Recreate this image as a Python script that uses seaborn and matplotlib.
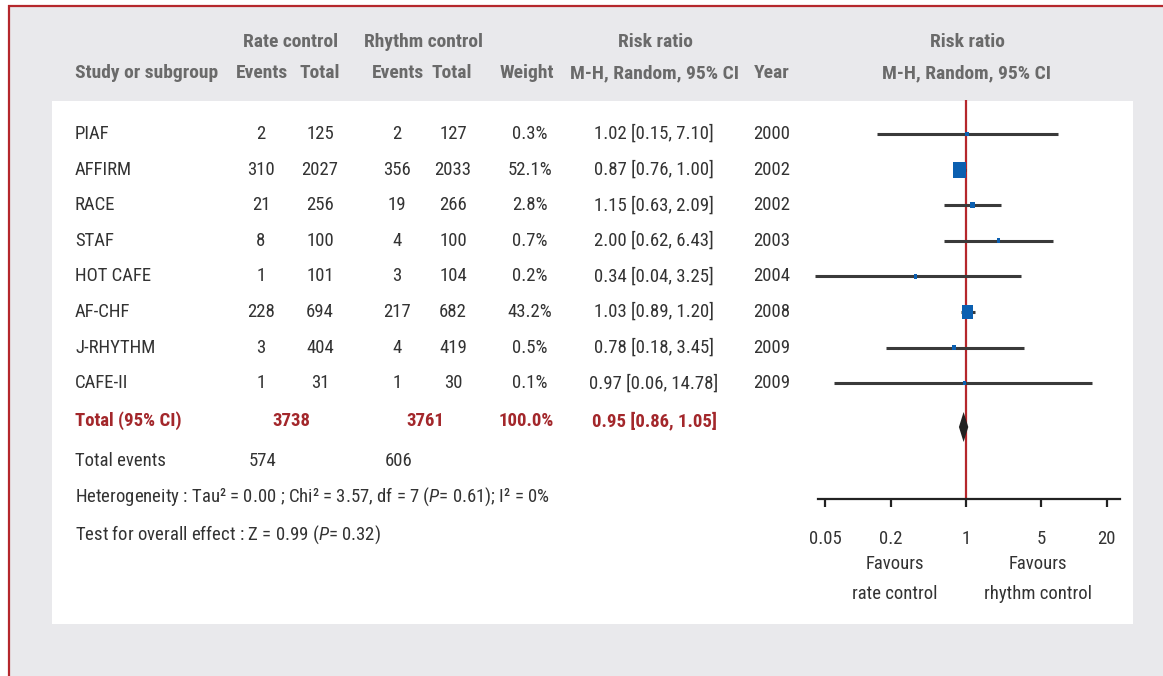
import numpy as np
import matplotlib
matplotlib.use("Agg")
import matplotlib.pyplot as plt
from matplotlib import font_manager
from matplotlib.patches import Rectangle, Polygon
from matplotlib.path import Path
import pandas as pd
import seaborn as sns

# ---- data ----
studies = ["PIAF", "AFFIRM", "RACE", "STAF", "HOT CAFE", "AF-CHF", "J-RHYTHM", "CAFE-II"]
rate_events = [2, 310, 21, 8, 1, 228, 3, 1]
rate_total = [125, 2027, 256, 100, 101, 694, 404, 31]
rhythm_events = [2, 356, 19, 4, 3, 217, 4, 1]
rhythm_total = [127, 2033, 266, 100, 104, 682, 419, 30]
weights = [0.3, 52.1, 2.8, 0.7, 0.2, 43.2, 0.5, 0.1]
rr = [1.02, 0.87, 1.15, 2.00, 0.34, 1.03, 0.78, 0.97]
rr_lo = [0.15, 0.76, 0.63, 0.62, 0.04, 0.89, 0.18, 0.06]
rr_hi = [7.10, 1.00, 2.09, 6.43, 3.25, 1.20, 3.45, 14.78]
years = [2000, 2002, 2002, 2003, 2004, 2008, 2009, 2009]

total_rate_n = 3738
total_rhythm_n = 3761
total_weight = 100.0
pooled_rr, pooled_lo, pooled_hi = 0.95, 0.86, 1.05
total_rate_events = 574
total_rhythm_events = 606
heterogeneity = "Heterogeneity : Tau² = 0.00 ; Chi² = 3.57, df = 7 ($\\mathit{P}$= 0.61); I² = 0%"
overall_test = "Test for overall effect : Z = 0.99 ($\\mathit{P}$= 0.32)"
axis_ticks = [0.05, 0.2, 1, 5, 20]
axis_ticklabels = ["0.05", "0.2", "1", "5", "20"]

# ---- style ----
sns.set_style("white")
available = {f.name for f in font_manager.fontManager.ttflist}
narrow = [n for n in ["Roboto Condensed", "Liberation Sans Narrow", "Roboto"] if n in available]
MAIN = narrow[0] if narrow else "DejaVu Sans"
FONT = [MAIN, "DejaVu Sans"]
plt.rcParams["font.family"] = FONT
plt.rcParams["mathtext.fontset"] = "custom"
plt.rcParams["mathtext.rm"] = MAIN
plt.rcParams["mathtext.it"] = MAIN + ":italic"

W, H = 1163, 676
BG = "#e9e9ec"
RED = "#b5272c"
HEAD = "#6a6a6a"
BODY = "#333333"
TOTRED = "#a3272b"
BLUE = "#0b5fb0"
FS = 13.5
HFS = 14

fig = plt.figure(figsize=(W / 100, H / 100), dpi=100)
fig.patch.set_facecolor("white")

# pixel-space canvas for the panels and the table text
bg = fig.add_axes([0, 0, 1, 1])
bg.set_xlim(0, W)
bg.set_ylim(H, 0)
bg.axis("off")
bg.add_patch(Rectangle((8, 5), W - 8, H - 5, facecolor=BG, edgecolor="none", zorder=0))
bg.add_patch(Rectangle((52, 101), 1133 - 52, 624 - 101, facecolor="white", edgecolor="none", zorder=1))
bg.plot([8, W], [5.5, 5.5], color=RED, lw=1.6, zorder=2, solid_capstyle="butt")
bg.plot([8.5, 8.5], [5, H], color=RED, lw=1.6, zorder=2, solid_capstyle="butt")


def txt(x, y, s, ha="center", color=BODY, weight="normal", size=FS):
    bg.text(x, y, s, ha=ha, va="center", color=color, fontsize=size,
            fontweight=weight, zorder=5)


# header
HW = "bold"
hy1, hy2 = 42, 73
txt(291, hy1, "Rate control", color=HEAD, weight=HW, size=HFS)
txt(424, hy1, "Rhythm control", color=HEAD, weight=HW, size=HFS)
txt(655, hy1, "Risk ratio", color=HEAD, weight=HW, size=HFS)
txt(967, hy1, "Risk ratio", color=HEAD, weight=HW, size=HFS)
txt(75, hy2, "Study or subgroup", ha="left", color=HEAD, weight=HW, size=HFS)
for x, s in [(262, "Events"), (320, "Total"), (398, "Events"), (452, "Total"),
             (527, "Weight"), (655, "M-H, Random, 95% CI"), (772, "Year"),
             (967, "M-H, Random, 95% CI")]:
    txt(x, hy2, s, color=HEAD, weight=HW, size=HFS)

# study rows
row_y = [134 + 35.6 * i for i in range(len(studies))]
for i, y in enumerate(row_y):
    txt(75, y, studies[i], ha="left")
    txt(261, y, str(rate_events[i]))
    txt(320, y, str(rate_total[i]))
    txt(397, y, str(rhythm_events[i]))
    txt(453, y, str(rhythm_total[i]))
    txt(530, y, f"{weights[i]:.1f}%")
    txt(654, y, f"{rr[i]:.2f} [{rr_lo[i]:.2f}, {rr_hi[i]:.2f}]")
    txt(772, y, str(years[i]))

# pooled row
ty = 421
txt(75, ty, "Total (95% CI)", ha="left", color=TOTRED, weight="bold")
txt(291, ty, str(total_rate_n), color=TOTRED, weight="bold")
txt(425, ty, str(total_rhythm_n), color=TOTRED, weight="bold")
txt(526, ty, f"{total_weight:.1f}%", color=TOTRED, weight="bold")
txt(654, ty, f"{pooled_rr:.2f} [{pooled_lo:.2f}, {pooled_hi:.2f}]", color=TOTRED, weight="bold")

txt(75, 461, "Total events", ha="left")
txt(263, 461, str(total_rate_events))
txt(399, 461, str(total_rhythm_events))
txt(75, 497, heterogeneity, ha="left")
txt(75, 535, overall_test, ha="left")

txt(895, 564, "Favours")
txt(895, 594, "rate control")
txt(1038, 564, "Favours")
txt(1038, 594, "rhythm control")

# ---- forest panel (log scale, 1 at x=966 px, 108 px per decade) ----
X0, PPD = 966, 108.0
L, R, TOP, BOT = 805, 1130, 100, 499
fa = fig.add_axes([L / W, 1 - BOT / H, (R - L) / W, (BOT - TOP) / H])
fa.set_facecolor("none")
fa.set_xscale("log")
fa.set_xlim(10 ** ((L - X0) / PPD), 10 ** ((R - X0) / PPD))
fa.set_ylim(BOT, TOP)

fa.axvline(1, color=RED, lw=1.6, zorder=1)
fa.hlines(row_y, rr_lo, rr_hi, color="#3a3a3a", lw=2.2, zorder=2)

df = pd.DataFrame({"rr": rr, "y": row_y, "weight": weights})
box = Path([(-0.8, -1), (0.8, -1), (0.8, 1), (-0.8, 1), (-0.8, -1)],
           [Path.MOVETO, Path.LINETO, Path.LINETO, Path.LINETO, Path.CLOSEPOLY])
sns.scatterplot(data=df, x="rr", y="y", size="weight", sizes=(10, 132),
                size_norm=(0, 52.1), marker=box, color=BLUE, linewidth=0,
                legend=False, ax=fa, zorder=3)

dy = 427
fa.add_patch(Polygon([(pooled_lo, dy), (pooled_rr, dy - 15), (pooled_hi, dy),
                      (pooled_rr, dy + 15)], closed=True, facecolor="#222222",
                     edgecolor="none", zorder=4))

for side in ["top", "left", "right"]:
    fa.spines[side].set_visible(False)
fa.spines["bottom"].set_color("#222222")
fa.spines["bottom"].set_linewidth(1.6)
fa.spines["bottom"].set_bounds(10 ** ((818 - X0) / PPD), 10 ** ((1120 - X0) / PPD))
fa.set_yticks([])
fa.set_xticks(axis_ticks)
fa.set_xticklabels(axis_ticklabels)
fa.xaxis.set_minor_locator(matplotlib.ticker.NullLocator())
fa.tick_params(axis="x", direction="out", length=6, width=1.6, color="#222222",
               labelsize=FS, labelcolor=BODY, pad=16, bottom=True)
fa.set_xlabel("")
fa.set_ylabel("")

fig.savefig("out.png", dpi=100, facecolor=fig.get_facecolor())
